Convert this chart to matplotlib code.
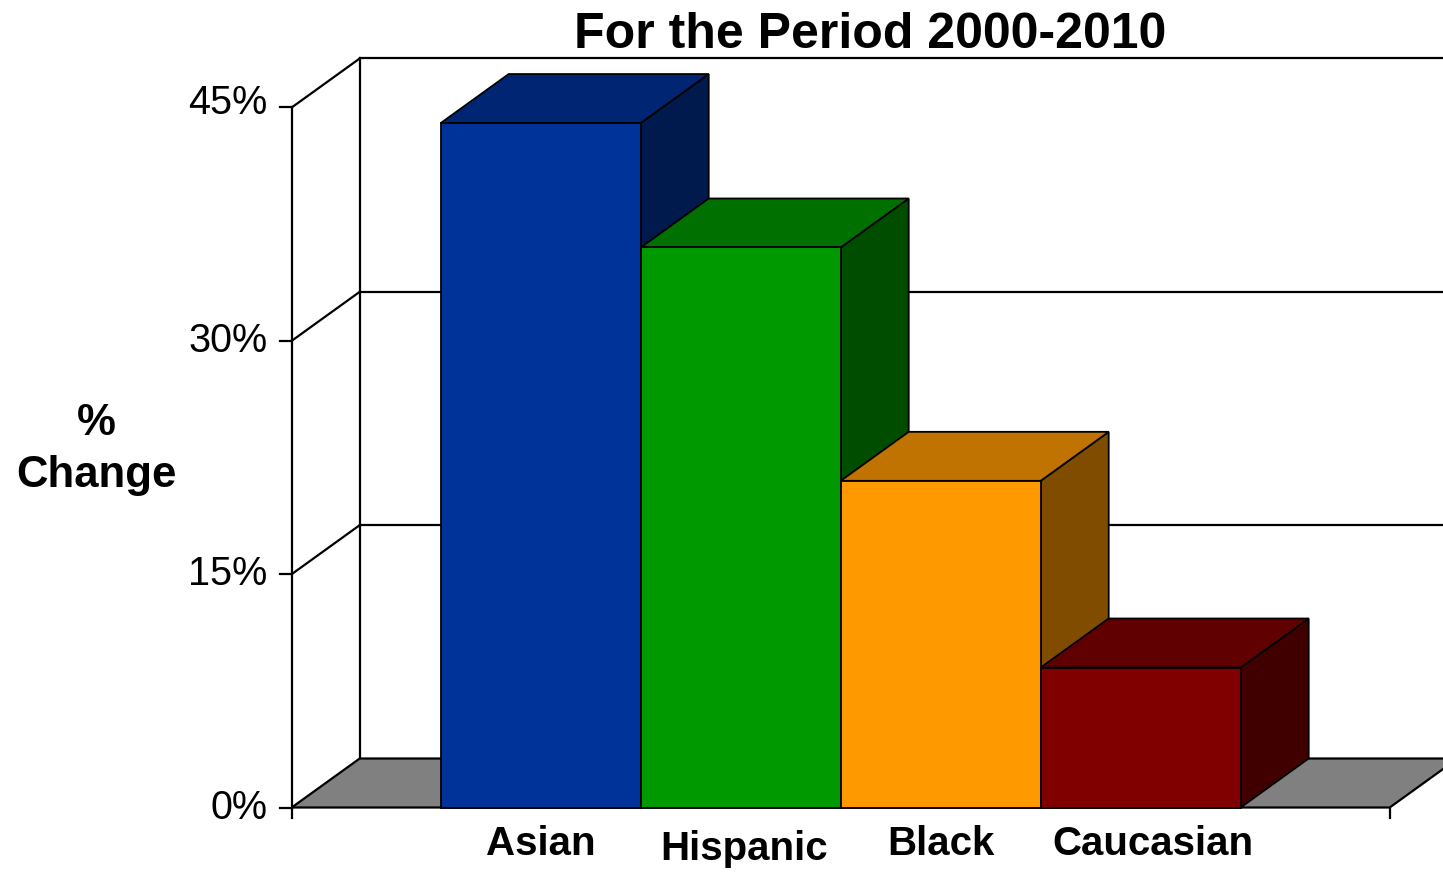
import matplotlib
matplotlib.use("Agg")
import matplotlib.pyplot as plt
from matplotlib.patches import Polygon

plt.rcParams['font.family'] = ['Liberation Sans', 'DejaVu Sans']

# Data
categories = ["Asian", "Hispanic", "Black", "Caucasian"]
pct_change = [44, 36, 21, 9]
y_ticks = [0, 15, 30, 45]
y_tick_labels = ["0%", "15%", "30%", "45%"]
title = "For the Period 2000-2010"

# Face colours: front, top, side
front_colors = ["#003399", "#009900", "#FF9900", "#800000"]
top_colors = ["#002673", "#007000", "#C07300", "#600000"]
side_colors = ["#001A4D", "#004D00", "#804D00", "#400000"]

# 3-D layout (in data units)
X_LEFT, X_RIGHT = -1.245, 4.245   # front edge of the floor
DX, DY = 0.34, 3.15               # depth offset of the back plane
BAR_W = 1.0
Y_TOP = 45

fig = plt.figure(figsize=(14.43, 8.72), dpi=100)
ax = fig.add_axes([0, 0, 1, 1])
ax.set_xlim(-2.7035, 4.5115)
ax.set_ylim(-4.146, 51.91)
ax.axis("off")

LW = 1.6
EDGE = 1.3

# Back wall: vertical edge and gridlines
ax.plot([X_LEFT + DX, X_LEFT + DX], [DY, Y_TOP + DY], color="black", lw=LW, zorder=1)
for t in y_ticks[1:]:
    ax.plot([X_LEFT + DX, X_RIGHT + 2], [t + DY, t + DY], color="black", lw=LW, zorder=1)
    # side wall diagonals
    ax.plot([X_LEFT, X_LEFT + DX], [t, t + DY], color="black", lw=LW, zorder=1)

# Front value axis with ticks
ax.plot([X_LEFT, X_LEFT], [-0.7, Y_TOP], color="black", lw=LW, zorder=4)
tick_label_shift = [0, 0, 0, 0.32]
for t, lab, sh in zip(y_ticks, y_tick_labels, tick_label_shift):
    ax.plot([X_LEFT - 0.06, X_LEFT], [t, t], color="black", lw=LW, zorder=4)
    ax.text(X_LEFT - 0.12, t + sh, lab, ha="right", va="center", fontsize=28.5)

# Floor
floor = Polygon([(X_LEFT, 0), (X_RIGHT, 0), (X_RIGHT + DX, DY), (X_LEFT + DX, DY)],
                closed=True, facecolor="#808080", edgecolor="black", lw=LW, zorder=2)
ax.add_patch(floor)
ax.plot([X_RIGHT, X_RIGHT], [-0.7, 0], color="black", lw=LW, zorder=4)

# Bars, drawn left to right so nearer faces cover farther ones
for i, (v, fc, tc, sc) in enumerate(zip(pct_change, front_colors, top_colors, side_colors)):
    x0, x1 = i - BAR_W / 2, i + BAR_W / 2
    z = 5 + i
    side = Polygon([(x1, 0), (x1 + DX, DY), (x1 + DX, v + DY), (x1, v)],
                   closed=True, facecolor=sc, edgecolor="black", lw=EDGE, zorder=z)
    top = Polygon([(x0, v), (x1, v), (x1 + DX, v + DY), (x0 + DX, v + DY)],
                  closed=True, facecolor=tc, edgecolor="black", lw=EDGE, zorder=z)
    front = Polygon([(x0, 0), (x1, 0), (x1, v), (x0, v)],
                    closed=True, facecolor=fc, edgecolor="black", lw=EDGE, zorder=z)
    for p in (side, top, front):
        ax.add_patch(p)

# Category labels
label_dx = [0.0, 0.015, 0.0, 0.06]
label_y = [-3.05, -3.35, -3.05, -3.05]
for i, (cat, ddx, ly) in enumerate(zip(categories, label_dx, label_y)):
    ax.text(i + ddx, ly, cat, ha="center", va="baseline", fontsize=29, fontweight="bold")

# Titles
fig.text(0.603, 1 - 48 / 872, title, ha="center", va="baseline", fontsize=36, fontweight="bold")
fig.text(96 / 1443, 1 - 435 / 872, "%", ha="center", va="baseline", fontsize=31.5, fontweight="bold")
fig.text(96 / 1443, 1 - 487 / 872, "Change", ha="center", va="baseline", fontsize=31.5, fontweight="bold")

fig.savefig("out.png", dpi=100)
